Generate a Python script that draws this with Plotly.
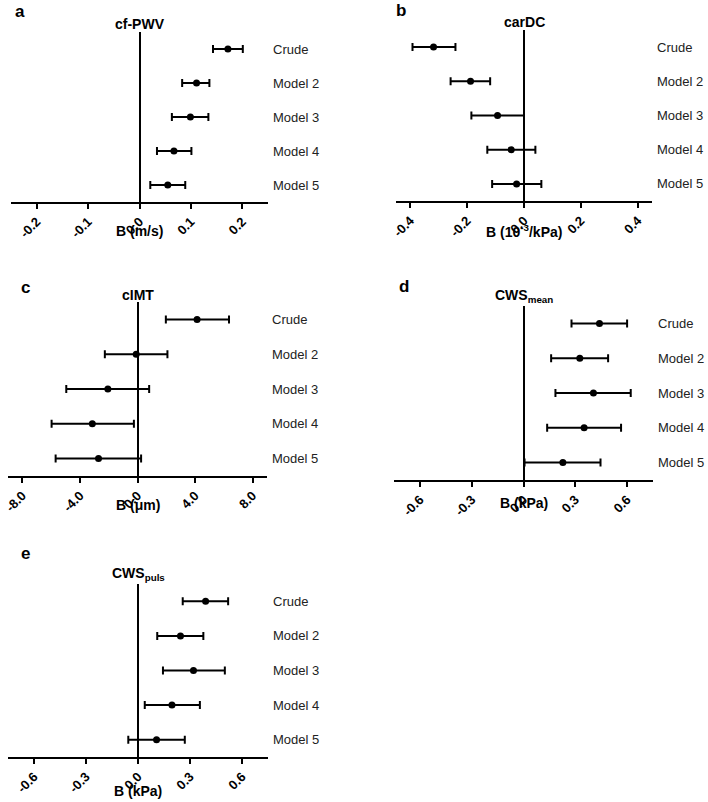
import plotly.graph_objects as go

categories = ["Crude", "Model 2", "Model 3", "Model 4", "Model 5"]

# panel a: cf-PWV (m/s)
a_est = [0.172, 0.111, 0.099, 0.067, 0.055]
a_lo = [0.143, 0.083, 0.063, 0.034, 0.021]
a_hi = [0.201, 0.136, 0.134, 0.101, 0.089]

# panel b: carDC (10^-3/kPa)
b_est = [-0.318, -0.188, -0.093, -0.045, -0.026]
b_lo = [-0.392, -0.258, -0.185, -0.129, -0.112]
b_hi = [-0.241, -0.119, 0.000, 0.040, 0.061]

# panel c: cIMT (um)
c_est = [4.14, -0.09, -2.06, -3.14, -2.71]
c_lo = [1.97, -2.27, -4.95, -5.97, -5.69]
c_hi = [6.36, 2.08, 0.81, -0.25, 0.25]

# panel d: CWS mean (kPa)
d_est = [0.440, 0.326, 0.405, 0.351, 0.228]
d_lo = [0.278, 0.160, 0.185, 0.137, 0.006]
d_hi = [0.600, 0.490, 0.621, 0.565, 0.446]

# panel e: CWS puls (kPa)
e_est = [0.390, 0.245, 0.320, 0.196, 0.107]
e_lo = [0.258, 0.111, 0.144, 0.039, -0.056]
e_hi = [0.520, 0.377, 0.501, 0.357, 0.270]

titles = ["cf-PWV", "carDC", "cIMT", "CWS<sub>mean</sub>", "CWS<sub>puls</sub>"]
letters = ["a", "b", "c", "d", "e"]
xtitles = ["B (m/s)", "B (10<sup>-3</sup>/kPa)", "B (\u03bcm)", "B (kPa)", "B (kPa)"]
xranges = [[-0.25, 0.25], [-0.45, 0.45], [-9, 9], [-0.75, 0.75], [-0.75, 0.75]]
xticks = [[-0.2, -0.1, 0.0, 0.1, 0.2], [-0.4, -0.2, 0.0, 0.2, 0.4],
          [-8.0, -4.0, 0.0, 4.0, 8.0], [-0.6, -0.3, 0.0, 0.3, 0.6],
          [-0.6, -0.3, 0.0, 0.3, 0.6]]

W, H = 708, 802
# pixel boxes: (left, right, top, bottom)
boxes = [(11, 268, 32, 202), (396, 652, 30, 201), (8, 267, 302, 476),
         (394, 653, 306, 480), (8, 268, 584, 757)]
title_y = [24, 22, 295, 296, 574]
xtitle_y = [231, 231, 505, 503, 791]
letter_pos = [(20, 12), (401, 10), (25, 287), (404, 286), (25, 553)]

data = [(a_est, a_lo, a_hi), (b_est, b_lo, b_hi), (c_est, c_lo, c_hi),
        (d_est, d_lo, d_hi), (e_est, e_lo, e_hi)]

FONT = "Liberation Sans, Arial, sans-serif"

fig = go.Figure()
annotations = []
for i, (est, lo, hi) in enumerate(data):
    xa = "x" if i == 0 else f"x{i+1}"
    ya = "y" if i == 0 else f"y{i+1}"
    fig.add_trace(go.Scatter(
        x=est, y=list(range(len(categories))), mode="markers",
        marker=dict(color="black", size=7, symbol="circle"),
        error_x=dict(type="data", symmetric=False,
                     array=[h - e for h, e in zip(hi, est)],
                     arrayminus=[e - l for e, l in zip(est, lo)],
                     color="black", thickness=2, width=4),
        xaxis=xa, yaxis=ya, showlegend=False, hoverinfo="skip"))
    l, r, t, b = boxes[i]
    xkey = "xaxis" if i == 0 else f"xaxis{i+1}"
    ykey = "yaxis" if i == 0 else f"yaxis{i+1}"
    fig.layout[xkey] = dict(
        domain=[l / W, r / W], anchor=ya, range=xranges[i], automargin=False,
        tickvals=xticks[i], ticktext=[f"{v:.1f}" for v in xticks[i]],
        tickangle=-45,
        tickfont=dict(family=FONT, size=13, color="black", weight="bold"),
        showline=True, linecolor="black", linewidth=2,
        ticks="outside", ticklen=5, tickwidth=2, tickcolor="black",
        showgrid=False, zeroline=True, zerolinecolor="black", zerolinewidth=2,
        fixedrange=True)
    fig.layout[ykey] = dict(
        domain=[1 - b / H, 1 - t / H], anchor=xa, side="right",
        range=[4.5, -0.5], tickvals=list(range(len(categories))),
        ticktext=categories, ticks="", showline=False, showgrid=False,
        zeroline=False, ticklabelstandoff=4, automargin=False,
        tickfont=dict(family=FONT, size=13, color="#222222"),
        fixedrange=True)
    annotations.append(dict(
        text=titles[i], xref=xa, x=0, yref="paper", y=1 - title_y[i] / H,
        showarrow=False, xanchor="center", yanchor="middle",
        font=dict(family=FONT, size=14, color="black", weight="bold")))
    annotations.append(dict(
        text=xtitles[i], xref=xa, x=0, yref="paper", y=1 - xtitle_y[i] / H,
        showarrow=False, xanchor="center", yanchor="middle",
        font=dict(family=FONT, size=14, color="black", weight="bold")))
    lx, ly = letter_pos[i]
    annotations.append(dict(
        text=letters[i], xref="paper", x=lx / W, yref="paper", y=1 - ly / H,
        showarrow=False, xanchor="center", yanchor="middle",
        font=dict(family=FONT, size=17, color="black", weight="bold")))

fig.update_layout(width=W, height=H, margin=dict(l=0, r=0, t=0, b=0),
                  paper_bgcolor="white", plot_bgcolor="white",
                  annotations=annotations)
fig.write_html("out.html", config={"displayModeBar": False},
               post_script="document.body.style.margin='0px';document.body.style.overflow='hidden';")
